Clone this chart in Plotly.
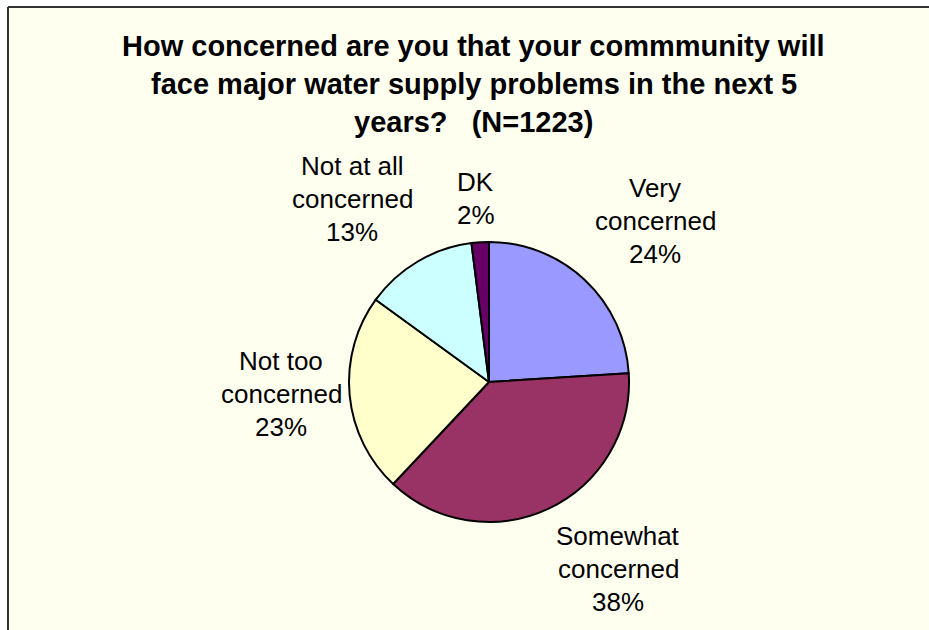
import plotly.graph_objects as go

# Survey responses (percent of N=1223)
categories = ["Very concerned", "Somewhat concerned", "Not too concerned",
              "Not at all concerned", "DK"]
label_lines = [["Very", "concerned"], ["Somewhat", "concerned"],
               ["Not too", "concerned"], ["Not at all", "concerned"], ["DK"]]
values = [24, 38, 23, 13, 2]
colors = ["#9999FF", "#993366", "#FFFFCC", "#CCFFFF", "#660066"]

title_lines = [
    "How concerned are you that your commmunity will",
    "face major water supply problems in the next 5",
    "years?   (N=1223)",
]

W, H = 929, 630
FONT = "Liberation Sans, Arial, sans-serif"
BG = "#FFFFF0"

# label anchor points (pixel x of centre, pixel y of first line)
label_pos = [(655, 188), (618, 536), (281, 361), (352, 166), (476, 182)]
LABEL_STEP = 33
TITLE_X = 474
TITLE_Y0 = 46
TITLE_STEP = 38


def px(x):
    return x / W


def py(y):
    return 1 - y / H


# pie placement
cx, cy, r = 489, 382, 140

fig = go.Figure(go.Pie(
    labels=categories,
    values=values,
    sort=False,
    direction="clockwise",
    rotation=0,
    marker=dict(colors=colors, line=dict(color="#000000", width=2)),
    textinfo="none",
    hoverinfo="label+percent",
    domain=dict(x=[px(cx - r), px(cx + r)], y=[py(cy + r), py(cy - r)]),
    showlegend=False,
))

annotations = []
for i, t in enumerate(title_lines):
    annotations.append(dict(
        x=px(TITLE_X), y=py(TITLE_Y0 + i * TITLE_STEP), xref="paper", yref="paper",
        text=f"<b>{t}</b>", showarrow=False, xanchor="center", yanchor="middle",
        font=dict(family=FONT, size=29, color="#000000"),
    ))

for lines, v, (lx, ly) in zip(label_lines, values, label_pos):
    for j, t in enumerate(lines + [f"{v}%"]):
        annotations.append(dict(
            x=px(lx), y=py(ly + j * LABEL_STEP), xref="paper", yref="paper",
            text=t, showarrow=False, xanchor="center", yanchor="middle",
            font=dict(family=FONT, size=26, color="#000000"),
        ))

shapes = [
    # chart area fill
    dict(type="rect", xref="paper", yref="paper", x0=px(8), x1=1.01,
         y0=-0.01, y1=py(7), fillcolor=BG, line=dict(width=0), layer="below"),
    # frame edges
    dict(type="line", xref="paper", yref="paper", x0=px(8), x1=1.01,
         y0=py(7), y1=py(7), line=dict(color="#333333", width=2)),
    dict(type="line", xref="paper", yref="paper", x0=px(8), x1=px(8),
         y0=py(7), y1=-0.01, line=dict(color="#333333", width=2)),
]

fig.update_layout(
    width=W, height=H,
    margin=dict(l=0, r=0, t=0, b=0),
    paper_bgcolor="#FFFFFF",
    plot_bgcolor="#FFFFFF",
    annotations=annotations,
    shapes=shapes,
)

fig.write_html("out.html")
